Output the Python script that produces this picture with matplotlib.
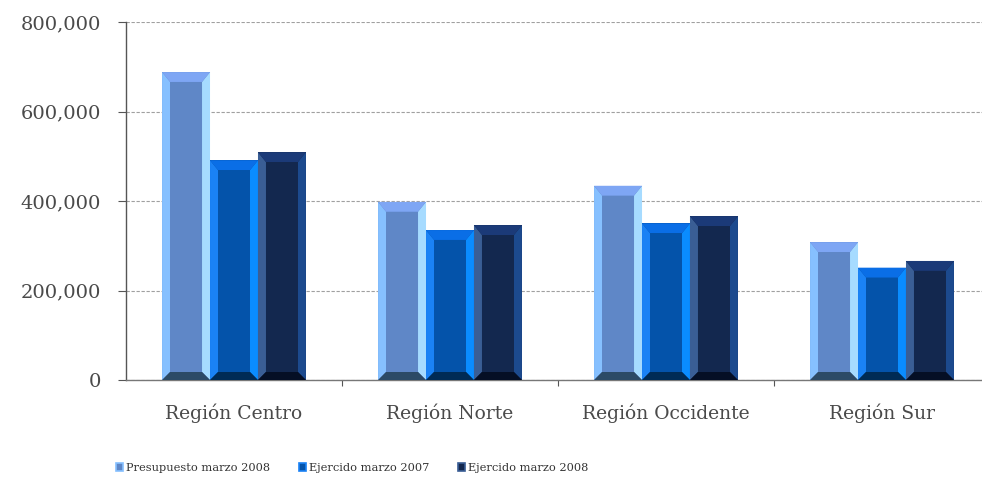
import numpy as np
import matplotlib
matplotlib.use("Agg")
import matplotlib.pyplot as plt
from matplotlib.patches import Polygon, Patch
from matplotlib.ticker import FuncFormatter, FixedLocator

# data
regions = ["Región Centro", "Región Norte", "Región Occidente", "Región Sur"]
series_names = ["Presupuesto marzo 2008", "Ejercido marzo 2007", "Ejercido marzo 2008"]
presupuesto_2008 = [688000, 398000, 434000, 308000]
ejercido_2007 = [491000, 335000, 350000, 251000]
ejercido_2008 = [509000, 346000, 366000, 266000]
yticks = [0, 200000, 400000, 600000, 800000]

# bevel colours per series: face, left, right, top, bottom
palettes = [
    dict(face="#5f87c7", left="#86c0ff", right="#a6dbff", top="#7ea6f4", bottom="#2c4a66"),
    dict(face="#0453aa", left="#1a82f5", right="#0a8cff", top="#0a6ee6", bottom="#002b55"),
    dict(face="#13284f", left="#3a5e95", right="#1c4a8e", top="#1b3a78", bottom="#050f25"),
]

plt.rcParams["font.family"] = ["DejaVu Serif"]

fig = plt.figure(figsize=(9.82, 4.8), dpi=100)
ax = fig.add_axes([126 / 982, 1 - 380 / 480, 864 / 982, 358 / 480])

bar_w = 0.222
bx = 0.037      # side bevel width (data x)
by_top = 22000  # top bevel (data y)
by_bot = 18000  # bottom bevel


def bevel_bar(ax, xc, h, pal):
    x0, x1 = xc - bar_w / 2, xc + bar_w / 2
    ix0, ix1 = x0 + bx, x1 - bx
    bt = min(by_top, h * 0.3)
    bb = min(by_bot, h * 0.3)
    iy0, iy1 = bb, h - bt
    shapes = [
        ([(x0, 0), (x1, 0), (x1, h), (x0, h)], pal["face"]),
        ([(x0, 0), (ix0, iy0), (ix0, iy1), (x0, h)], pal["left"]),
        ([(x1, 0), (ix1, iy0), (ix1, iy1), (x1, h)], pal["right"]),
        ([(x0, h), (x1, h), (ix1, iy1), (ix0, iy1)], pal["top"]),
        ([(x0, 0), (x1, 0), (ix1, iy0), (ix0, iy0)], pal["bottom"]),
        ([(ix0, iy0), (ix1, iy0), (ix1, iy1), (ix0, iy1)], pal["face"]),
    ]
    for pts, c in shapes:
        ax.add_patch(Polygon(pts, closed=True, facecolor=c, edgecolor="none", zorder=3))


x = np.arange(len(regions))
all_series = [presupuesto_2008, ejercido_2007, ejercido_2008]
for k, (vals, pal) in enumerate(zip(all_series, palettes)):
    for i, v in enumerate(vals):
        bevel_bar(ax, x[i] + (k - 1) * bar_w, v, pal)

ax.set_xlim(-0.5, len(regions) - 0.5)
ax.set_ylim(0, 800000)

ax.yaxis.set_major_locator(FixedLocator(yticks))
ax.yaxis.set_major_formatter(FuncFormatter(lambda v, p: f"{int(v):,}"))
ax.grid(axis="y", color="#a0a0a0", linestyle=(0, (3, 1.5)), linewidth=0.8, zorder=0)

ax.set_xticks(x)
ax.set_xticklabels(regions)
ax.set_xticks(x[:-1] + 0.5, minor=True)
ax.tick_params(axis="x", which="major", length=0, pad=17, labelsize=13.5, labelcolor="#4a4a4a")
ax.tick_params(axis="x", which="minor", length=4, color="#555555", width=0.8)
ax.tick_params(axis="y", length=6, color="#555555", width=0.8, pad=12,
               labelsize=14, labelcolor="#4a4a4a")

for s in ["top", "right"]:
    ax.spines[s].set_visible(False)
ax.spines["left"].set_color("#555555")
ax.spines["bottom"].set_color("#777777")
ax.spines["left"].set_linewidth(1.0)
ax.spines["bottom"].set_linewidth(1.0)

handles = [Patch(facecolor=p["face"], edgecolor=p["left"], linewidth=1.2) for p in palettes]
fig.legend(handles, series_names, loc="center left", bbox_to_anchor=(106 / 982, 1 - 468 / 480),
           ncol=3, frameon=False, fontsize=8.2, handlelength=0.6, handleheight=0.6,
           handletextpad=0.3, columnspacing=2.5, labelcolor="#333333")

fig.savefig("out.png", dpi=100)
